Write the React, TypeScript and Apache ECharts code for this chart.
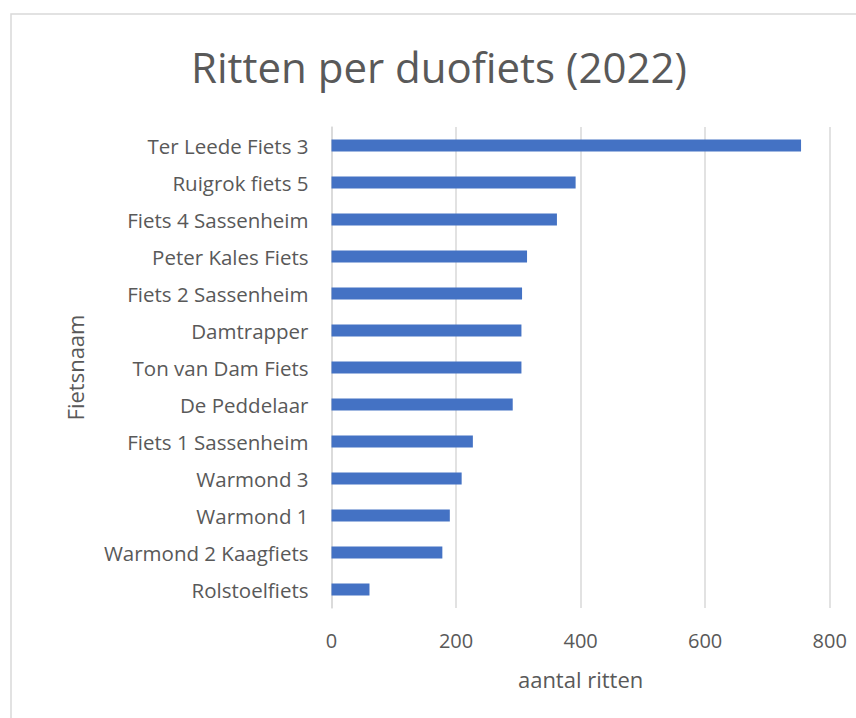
import React, { useEffect, useRef } from "react";
import * as echarts from "echarts";

const categories = [
  "Ter Leede Fiets 3",
  "Ruigrok fiets 5",
  "Fiets 4 Sassenheim",
  "Peter Kales Fiets",
  "Fiets 2 Sassenheim",
  "Damtrapper",
  "Ton van Dam Fiets",
  "De Peddelaar",
  "Fiets 1 Sassenheim",
  "Warmond 3",
  "Warmond 1",
  "Warmond 2 Kaagfiets",
  "Rolstoelfiets",
];
const ritten = [754, 392, 362, 314, 306, 305, 305, 291, 227, 209, 190, 178, 61];
const titleText = "Ritten per duofiets (2022)";
const xName = "aantal ritten";
const yName = "Fietsnaam";

const FONT = "'Open Sans', 'Noto Sans', sans-serif";

export default function App() {
  const ref = useRef<HTMLDivElement>(null);
  useEffect(() => {
    document.body.style.margin = "0";
    const chart = echarts.init(ref.current!, null, { renderer: "svg" });
    chart.setOption({
      animation: false,
      backgroundColor: "#ffffff",
      textStyle: { fontFamily: FONT },
      title: {
        text: titleText,
        left: 186,
        top: 40,
        textStyle: { fontFamily: FONT, fontSize: 42, fontWeight: "normal", color: "#595959" },
      },
      graphic: [
        {
          type: "rect",
          shape: { x: 11, y: 14, width: 900, height: 800 },
          style: { fill: "none", stroke: "#d9d9d9", lineWidth: 1.5 },
          silent: true,
        },
      ],
      grid: { left: 331.5, top: 127, width: 498.2, height: 481, containLabel: false },
      xAxis: {
        type: "value",
        min: 0,
        max: 800,
        interval: 200,
        name: xName,
        nameLocation: "middle",
        nameGap: 60,
        nameTextStyle: { fontFamily: FONT, fontSize: 22, color: "#595959" },
        axisLine: { show: false },
        axisTick: { show: false },
        axisLabel: { fontFamily: FONT, fontSize: 20, color: "#595959", margin: 22 },
        splitLine: { show: true, lineStyle: { color: "#d9d9d9", width: 1.5 } },
      },
      yAxis: {
        type: "category",
        inverse: true,
        data: categories,
        name: yName,
        nameLocation: "middle",
        nameGap: 246,
        nameRotate: 90,
        nameTextStyle: { fontFamily: FONT, fontSize: 22, color: "#595959" },
        axisLine: { show: true, lineStyle: { color: "#d9d9d9", width: 1.5 } },
        axisTick: { show: false },
        axisLabel: { fontFamily: FONT, fontSize: 20.5, color: "#595959", margin: 23 },
      },
      series: [
        {
          type: "bar",
          data: ritten,
          barWidth: 12,
          itemStyle: { color: "#4472C4" },
        },
      ],
    });
    return () => chart.dispose();
  }, []);
  return <div ref={ref} style={{ width: 856, height: 718 }} />;
}
